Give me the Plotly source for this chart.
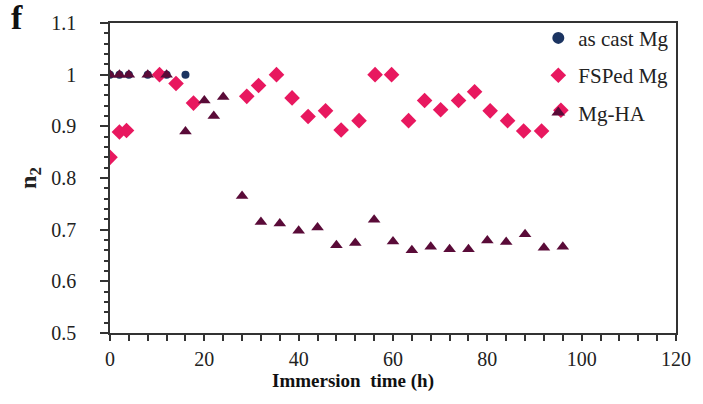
import plotly.graph_objects as go

# Immersion time (h) and n2 values for each sample
cast_t = [0, 2, 4, 8, 12, 16]
cast_n2 = [1.0, 1.0, 1.0, 1.0, 1.0, 1.0]

fsp_t = [0, 2, 3.5, 10.5, 14, 17.7, 29, 31.5, 35.3, 38.6, 42, 45.7, 49, 52.8,
         56.2, 59.7, 63.3, 66.7, 70.1, 73.9, 77.3, 80.6, 84.3, 87.7, 91.5, 95.6]
fsp_n2 = [0.84, 0.889, 0.892, 1.0, 0.983, 0.945, 0.958, 0.979, 1.0, 0.955, 0.919,
          0.930, 0.893, 0.911, 1.0, 1.0, 0.911, 0.95, 0.932, 0.95, 0.967, 0.93,
          0.911, 0.891, 0.891, 0.931]

ha_t = [0, 2, 4, 8, 12, 16, 20, 22, 24, 28, 32, 36, 40, 44, 48, 52, 56, 60, 64,
        68, 72, 76, 80, 84, 88, 92, 96]
ha_n2 = [1.0, 1.0, 1.0, 1.0, 1.0, 0.89, 0.95, 0.92, 0.957, 0.765, 0.715, 0.712,
         0.698, 0.704, 0.67, 0.674, 0.719, 0.677, 0.66, 0.667, 0.662, 0.662,
         0.679, 0.676, 0.691, 0.665, 0.667]

SERIF = "Liberation Serif"

fig = go.Figure()
fig.add_trace(go.Scatter(x=cast_t, y=cast_n2, mode="markers", name="as cast Mg",
                         legendgroup="a",
                         marker=dict(symbol="circle", size=8, color="#1B3461")))
fig.add_trace(go.Scatter(x=fsp_t, y=fsp_n2, mode="markers", name="FSPed Mg",
                         legendgroup="b",
                         marker=dict(symbol="diamond", size=12, color="#E8185F")))
fig.add_trace(go.Scatter(x=ha_t, y=ha_n2, mode="markers", name="Mg-HA",
                         legendgroup="c",
                         marker=dict(symbol="triangle-up", size=11, color="#5A0B38")))

fig.update_layout(
    width=703, height=404,
    margin=dict(l=110, r=20, t=19, b=71),
    paper_bgcolor="white", plot_bgcolor="white",
    font=dict(family=SERIF, size=18, color="#222"),
    showlegend=True,
    legend=dict(x=0.997, y=1.017, xanchor="right", yanchor="top",
                bgcolor="rgba(255,255,255,0)", font=dict(family=SERIF, size=21, color="#222"),
                traceorder="grouped", tracegroupgap=7, itemsizing="constant",
                itemwidth=30),
    xaxis=dict(range=[0, 120], tickvals=[0, 20, 40, 60, 80, 100, 120],
               ticks="outside", ticklen=6, tickwidth=1.5, tickcolor="#333",
               minor=dict(dtick=4, ticks="outside", ticklen=6, tickwidth=1.5, tickcolor="#333"),
               showline=True, linecolor="#333", linewidth=1.5, mirror=True,
               showgrid=False, zeroline=False, ticklabelstandoff=1,
               tickfont=dict(family=SERIF, size=20)),
    yaxis=dict(range=[0.5, 1.1], tickvals=[0.5, 0.6, 0.7, 0.8, 0.9, 1.0, 1.1],
               ticktext=["0.5", "0.6", "0.7", "0.8", "0.9", "1", "1.1"],
               ticks="outside", ticklen=8, tickwidth=1.5, tickcolor="#333",
               minor=dict(dtick=0.02, ticks="outside", ticklen=4, tickwidth=1.5, tickcolor="#333"),
               showline=True, linecolor="#333", linewidth=1.5, mirror=True,
               showgrid=False, zeroline=False, ticklabelstandoff=20,
               tickfont=dict(family=SERIF, size=20),
               title=dict(text="<b>n<sub>2</sub></b>", font=dict(family=SERIF, size=24),
                          standoff=8)),
)

# x-axis title, set slightly left of the plot centre
fig.add_annotation(text="<b>Immersion&nbsp;&nbsp;time (h)</b>", x=0.43, y=-0.155,
                   xref="paper", yref="paper", xanchor="center", yanchor="middle",
                   showarrow=False, font=dict(family=SERIF, size=19, color="#111"))

# panel letter
fig.add_annotation(text="<b>f</b>", x=-0.178, y=1.085, xref="paper", yref="paper",
                   xanchor="left", yanchor="top", showarrow=False,
                   font=dict(family=SERIF, size=34, color="#111"))

fig.write_html("out.html")
